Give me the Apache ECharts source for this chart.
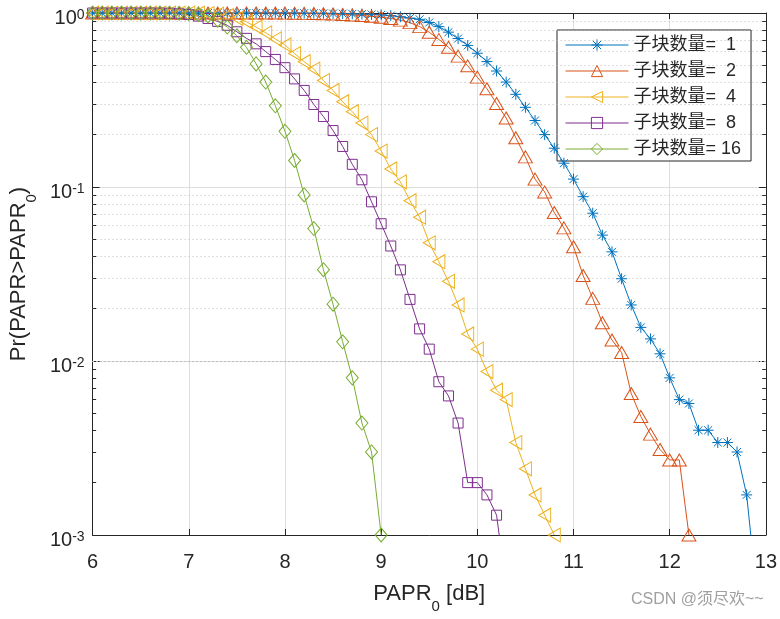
<!DOCTYPE html>
<html>
<head>
<meta charset="utf-8">
<script src="https://cdn.jsdelivr.net/npm/echarts@6/dist/echarts.min.js"></script>
<style>html,body{margin:0;padding:0;background:#fff}#c{width:780px;height:619px}</style>
</head>
<body>
<div id="c"></div>
<script>
// ---- data ----
const PAPR_DB = [6.0,6.1,6.2,6.3,6.4,6.5,6.6,6.7,6.8,6.9,
  7.0,7.1,7.2,7.3,7.4,7.5,7.6,7.7,7.8,7.9,
  8.0,8.1,8.2,8.3,8.4,8.5,8.6,8.7,8.8,8.9,
  9.0,9.1,9.2,9.3,9.4,9.5,9.6,9.7,9.8,9.9,
  10.0,10.1,10.2,10.3,10.4,10.5,10.6,10.7,10.8,10.9,
  11.0,11.1,11.2,11.3,11.4,11.5,11.6,11.7,11.8,11.9,
  12.0,12.1,12.2,12.3,12.4,12.5,12.6,12.7,12.8,12.9];

const CCDF_1 = [1,1,1,1,1,1,1,1,1,1,
  1,1,1,1,1,1,1,1,1,1,
  1,0.999,0.998,0.997,0.996,0.994,0.992,0.989,0.985,0.982,
  0.976,0.966,0.952,0.935,0.92,0.882,0.835,0.776,0.713,0.651,
  0.587,0.526,0.464,0.401,0.341,0.287,0.241,0.200,0.167,0.137,
  0.111,0.088,0.0707,0.0529,0.0424,0.0297,0.0210,0.0156,0.0134,0.0110,
  0.0080,0.0060,0.0057,0.0040,0.0040,0.0034,0.0034,0.0030,0.0017,0.0005];

const CCDF_2 = [1,1,1,1,1,1,1,1,1,1,
  1,1,1,1,1,1,1,1,1,0.999,
  0.998,0.997,0.995,0.993,0.99,0.986,0.981,0.975,0.967,0.957,
  0.945,0.93,0.91,0.88,0.835,0.775,0.705,0.635,0.565,0.497,
  0.428,0.367,0.302,0.249,0.192,0.149,0.111,0.0937,0.0713,0.0582,
  0.0454,0.031,0.0229,0.0166,0.0132,0.0112,0.0065,0.0048,0.0038,0.0031,
  0.0027,0.0027,0.0010];

const CCDF_4 = [1,1,1,1,1,1,1,1,1,1,
  0.999,0.997,0.993,0.985,0.965,0.93,0.89,0.83,0.77,0.71,
  0.655,0.585,0.525,0.476,0.409,0.359,0.309,0.271,0.233,0.200,
  0.161,0.127,0.107,0.0834,0.0671,0.0478,0.0372,0.0287,0.0210,0.0143,
  0.0117,0.0087,0.0068,0.0060,0.0034,0.0024,0.0017,0.0013,0.0010];

const CCDF_8 = [1,1,1,1,1,1,1,0.999,0.997,0.99,
  0.98,0.96,0.93,0.895,0.85,0.78,0.715,0.665,0.60,0.541,
  0.485,0.418,0.359,0.298,0.254,0.211,0.171,0.135,0.110,0.0822,
  0.0615,0.0458,0.0334,0.0226,0.0153,0.0117,0.0076,0.0063,0.0044,0.0020,
  0.0020,0.0017,0.0013,0.0005];

const CCDF_16 = [1,1,1,1,1,1,1,1,0.999,0.997,
  0.992,0.982,0.962,0.91,0.83,0.74,0.635,0.51,0.401,0.293,
  0.209,0.142,0.09,0.0577,0.0335,0.0212,0.0129,0.0080,0.0044,0.0030,
  0.0010];

const SERIES_NAMES = ['子块数量=  1','子块数量=  2','子块数量=  4','子块数量=  8','子块数量= 16'];
const X_TICKS = [6,7,8,9,10,11,12,13];
const Y_MINOR = [0.002,0.003,0.004,0.005,0.006,0.007,0.008,0.009,
  0.02,0.03,0.04,0.05,0.06,0.07,0.08,0.09,
  0.2,0.3,0.4,0.5,0.6,0.7,0.8,0.9];

// ---- styling ----
const FONT = "'Liberation Sans', Arial, 'Noto Sans CJK SC', sans-serif";
const AX = '#262626';
const COLORS = ['#0072BD','#D95319','#EDB120','#7E2F8E','#77AC30'];
const SYMBOLS = [
  'path://M-1,0L1,0M0,-1L0,1M-0.72,-0.72L0.72,0.72M-0.72,0.72L0.72,-0.72',
  'triangle',
  'path://M-1,0L1,-1.1L1,1.1Z',
  'rect',
  'diamond'
];
const SIZES = [11, [14,12], [12,14], 10, [12,14]];
const VALUES = [CCDF_1, CCDF_2, CCDF_4, CCDF_8, CCDF_16];

const X_MIN = X_TICKS[0], X_MAX = X_TICKS[X_TICKS.length - 1];
const TICK_DX = 0.037;

const dataSeries = VALUES.map((vals, k) => ({
  type: 'line',
  name: SERIES_NAMES[k],
  data: vals.map((v, i) => [PAPR_DB[i], v]),
  xAxisIndex: 0, yAxisIndex: 0,
  z: 10,
  color: COLORS[k],
  symbol: SYMBOLS[k],
  symbolSize: SIZES[k],
  showSymbol: true,
  showAllSymbol: true,
  lineStyle: { color: COLORS[k], width: 1 },
  itemStyle: { color: 'rgba(0,0,0,0)', borderColor: COLORS[k], borderWidth: 1 },
  emphasis: { disabled: true },
  silent: true,
  clip: true
}));

const minorGrid = {
  type: 'line', name: '_grid', data: [[X_MIN, 1]], showSymbol: false,
  lineStyle: { opacity: 0 }, z: 1, silent: true,
  markLine: {
    silent: true, symbol: ['none','none'], animation: false,
    label: { show: false },
    emphasis: { disabled: true },
    data: [].concat(
      Y_MINOR.map(v => ({ yAxis: v, lineStyle: { type: [1,3], color: '#bdbdbd', width: 1 } })),
      Y_MINOR.map(v => [{ coord: [X_MIN, v], lineStyle: { type: 'solid', color: AX, width: 1 } }, { coord: [X_MIN + TICK_DX, v] }]),
      Y_MINOR.map(v => [{ coord: [X_MAX - TICK_DX, v], lineStyle: { type: 'solid', color: AX, width: 1 } }, { coord: [X_MAX, v] }])
    )
  }
};

const subRich = {
  m: { fontSize: 22, lineHeight: 24, verticalAlign: 'top', color: AX, fontFamily: FONT },
  s: { fontSize: 15, lineHeight: 16, padding: [16,0,0,0], verticalAlign: 'top', color: AX, fontFamily: FONT }
};

const chart = echarts.init(document.getElementById('c'), null, { renderer: 'canvas' });
chart.setOption({
  animation: false,
  backgroundColor: '#fff',
  grid: { left: 89, right: 13, top: 13, bottom: 75, containLabel: false, show: false },
  xAxis: [{
    type: 'value', min: X_MIN, max: X_MAX, interval: 1, position: 'bottom',
    name: '{m|PAPR}{s|0}{m| [dB]}', nameLocation: 'middle', nameGap: 48,
    nameTextStyle: { rich: subRich },
    axisLine: { show: true, onZero: false, lineStyle: { color: AX, width: 1 } },
    axisTick: { show: true, inside: true, length: 6, lineStyle: { color: AX } },
    axisLabel: { fontSize: 20, color: AX, margin: 17, fontFamily: FONT },
    splitLine: { show: true, lineStyle: { color: '#dedede', width: 1 } }
  }, {
    type: 'value', min: X_MIN, max: X_MAX, interval: 1, position: 'top',
    axisLine: { show: true, onZero: false, lineStyle: { color: AX, width: 1 } },
    axisTick: { show: true, inside: true, length: 6, lineStyle: { color: AX } },
    axisLabel: { show: false }, splitLine: { show: false }
  }],
  yAxis: [{
    type: 'log', logBase: 10, min: 0.001, max: 1, position: 'left',
    name: '{m|Pr(PAPR>PAPR}{s|0}{m|)}', nameLocation: 'middle', nameGap: 57,
    nameTextStyle: { rich: subRich },
    axisLine: { show: true, onZero: false, lineStyle: { color: AX, width: 1 } },
    axisTick: { show: true, inside: true, length: 7, lineStyle: { color: AX } },
    axisLabel: {
      margin: 8, color: AX, padding: [10,0,0,0],
      formatter: v => '{b|10}{e|' + Math.round(Math.log10(v)) + '}',
      rich: {
        b: { fontSize: 20, lineHeight: 20, verticalAlign: 'bottom', color: AX, fontFamily: FONT },
        e: { fontSize: 14, lineHeight: 16, padding: [0,0,12,0], verticalAlign: 'top', color: AX, fontFamily: FONT }
      }
    },
    splitLine: { show: true, lineStyle: { color: '#dedede', width: 1 } }
  }, {
    type: 'log', logBase: 10, min: 0.001, max: 1, position: 'right',
    axisLine: { show: true, onZero: false, lineStyle: { color: AX, width: 1 } },
    axisTick: { show: true, inside: true, length: 7, lineStyle: { color: AX } },
    axisLabel: { show: false }, splitLine: { show: false }
  }],
  legend: {
    data: SERIES_NAMES,
    left: 557, top: 30, orient: 'vertical',
    backgroundColor: '#fff', borderColor: AX, borderWidth: 1, borderRadius: 0,
    padding: [6, 10, 3, 8], itemGap: 8, itemWidth: 63, itemHeight: 14,
    selectedMode: false,
    itemStyle: { borderWidth: 1 },
    lineStyle: { width: 1 },
    textStyle: { fontSize: 18, lineHeight: 18, color: AX, fontFamily: FONT }
  },
  graphic: [{
    type: 'text', left: 631, top: 592, silent: true,
    style: { text: 'CSDN @须尽欢~~', fontSize: 16, fill: '#a0a0a0', fontFamily: FONT }
  }],
  series: [minorGrid].concat(dataSeries)
});
</script>
</body>
</html>
